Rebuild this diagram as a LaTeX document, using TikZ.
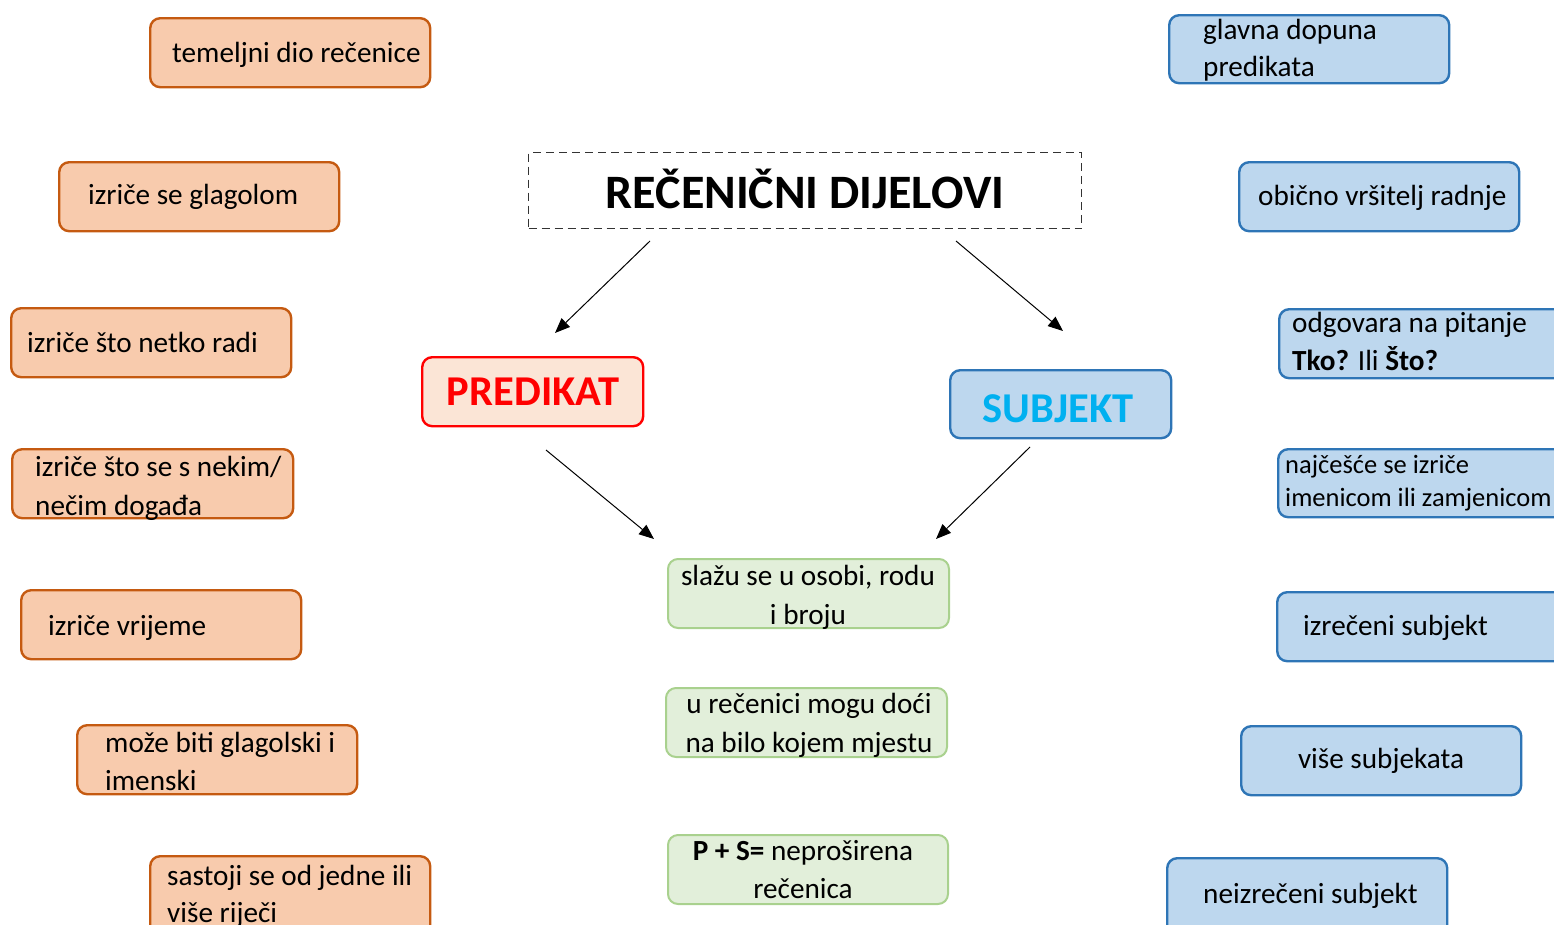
\documentclass[tikz,border=0pt]{standalone}
\usepackage{fontspec}
\setmainfont{Carlito}
\usetikzlibrary{arrows.meta}
\definecolor{ofill}{HTML}{F8CBAD}
\definecolor{oline}{HTML}{C55A11}
\definecolor{bfill}{HTML}{BDD7EE}
\definecolor{bline}{HTML}{2E75B6}
\definecolor{gfill}{HTML}{E2EFDA}
\definecolor{gline}{HTML}{A9D18E}
\definecolor{rfill}{HTML}{FBE5D6}
\definecolor{subj}{HTML}{00B0F0}
\begin{document}
\begin{tikzpicture}[x=1pt,y=-1pt,
  boxbase/.style={rectangle, rounded corners=10pt, inner sep=0pt, anchor=north west},
  obox/.style={boxbase, fill=ofill, draw=oline, line width=2.4pt},
  bbox/.style={boxbase, fill=bfill, draw=bline, line width=2.4pt},
  gbox/.style={boxbase, fill=gfill, draw=gline, line width=2pt},
  rbox/.style={boxbase, fill=rfill, draw=red, line width=2.4pt},
  tbox/.style={rectangle, inner sep=0pt, anchor=north west, draw=black!80, dashed, dash pattern=on 8pt off 5pt, line width=1.3pt},
  txt/.style={inner sep=0pt, anchor=base west, font=\fontsize{29.2}{35}\selectfont},
  ctxt/.style={txt, anchor=base},
  stxt/.style={txt, font=\fontsize{26.5}{32}\selectfont},
  arr/.style={-{Triangle[length=15pt,width=12pt]}, line width=1pt}
]
\useasboundingbox (0,0) rectangle (1554,924);
% left orange boxes
\node[obox, minimum width=280pt, minimum height=69pt] (o1) at (149,17) {};
\node[txt] (o1a) at (172,62) {temeljni dio rečenice};
\node[obox, minimum width=280pt, minimum height=69pt] (o2) at (58,161) {};
\node[txt] (o2a) at (88,204) {izriče se glagolom};
\node[obox, minimum width=280pt, minimum height=69pt] (o3) at (10,307) {};
\node[txt] (o3a) at (27,352) {izriče što netko radi};
\node[obox, minimum width=281pt, minimum height=69pt] (o4) at (11,448) {};
\node[txt] (o4a) at (35,476) {izriče što se s nekim/};
\node[txt] (o4b) at (35,515) {nečim događa};
\node[obox, minimum width=280pt, minimum height=69pt] (o5) at (20,589) {};
\node[txt] (o5a) at (48,635) {izriče vrijeme};
\node[obox, minimum width=280pt, minimum height=69pt] (o6) at (76,724) {};
\node[txt] (o6a) at (105,752) {može biti glagolski i};
\node[txt] (o6b) at (105,790) {imenski};
\node[obox, minimum width=280pt, minimum height=80pt] (o7) at (149,855) {};
\node[txt] (o7a) at (167,885) {sastoji se od jedne ili};
\node[txt] (o7b) at (167,922) {više riječi};
% title
\node[tbox, minimum width=553pt, minimum height=76pt] (title) at (528,152) {};
\node[ctxt, font=\fontsize{48}{56}\selectfont\bfseries] (titlet) at (805,208) {REČENIČNI DIJELOVI};
% predikat / subjekt
\node[rbox, minimum width=221pt, minimum height=69pt] (pred) at (421,356) {};
\node[ctxt, font=\fontsize{42.5}{50}\selectfont\bfseries, text=red] (predt) at (533,405) {PREDIKAT};
\node[bbox, minimum width=221pt, minimum height=68pt] (subj) at (949,369) {};
\node[ctxt, font=\fontsize{42.5}{50}\selectfont\bfseries, text=subj] (subjt) at (1058,422) {SUBJEKT};
% green boxes
\node[gbox, minimum width=281pt, minimum height=69pt] (g1) at (667,558) {};
\node[ctxt] (g1a) at (808,585) {slažu se u osobi, rodu};
\node[ctxt] (g1b) at (808,624) {i broju};
\node[gbox, minimum width=281pt, minimum height=69pt] (g2) at (665,687) {};
\node[ctxt] (g2a) at (809,713) {u rečenici mogu doći};
\node[ctxt] (g2b) at (809,752) {na bilo kojem mjestu};
\node[gbox, minimum width=280pt, minimum height=69pt] (g3) at (667,834) {};
\node[ctxt] (g3a) at (803,860) {\textbf{P + S=} neproširena};
\node[ctxt] (g3b) at (803,898) {rečenica};
% right blue boxes
\node[bbox, minimum width=280pt, minimum height=68pt] (b1) at (1168,14) {};
\node[txt] (b1a) at (1203,39) {glavna dopuna};
\node[txt] (b1b) at (1203,76) {predikata};
\node[bbox, minimum width=280pt, minimum height=69pt] (b2) at (1238,161) {};
\node[txt] (b2a) at (1258,205) {obično vršitelj radnje};
\node[bbox, minimum width=290pt, minimum height=69pt] (b3) at (1278,308) {};
\node[txt] (b3a) at (1292,332) {odgovara na pitanje};
\node[txt] (b3b) at (1292,370) {\textbf{Tko?} Ili \textbf{Što?}};
\node[bbox, minimum width=290pt, minimum height=68pt] (b4) at (1277,448) {};
\node[stxt] (b4a) at (1285,473) {najčešće se izriče};
\node[stxt] (b4b) at (1285,506) {imenicom ili zamjenicom};
\node[bbox, minimum width=290pt, minimum height=69pt] (b5) at (1276,591) {};
\node[txt] (b5a) at (1303,635) {izrečeni subjekt};
\node[bbox, minimum width=280pt, minimum height=69pt] (b6) at (1240,725) {};
\node[ctxt] (b6a) at (1381,768) {više subjekata};
\node[bbox, minimum width=280pt, minimum height=80pt] (b7) at (1166,857) {};
\node[txt] (b7a) at (1203,903) {neizrečeni subjekt};
% arrows
\coordinate (a1s) at (650,241); \coordinate (a1e) at (555,333);
\coordinate (a2s) at (956,241); \coordinate (a2e) at (1063,331);
\coordinate (a3s) at (546,450); \coordinate (a3e) at (654,539);
\coordinate (a4s) at (1030,447); \coordinate (a4e) at (936,539);
\draw[arr] (a1s) -- (a1e);
\draw[arr] (a2s) -- (a2e);
\draw[arr] (a3s) -- (a3e);
\draw[arr] (a4s) -- (a4e);
\end{tikzpicture}
\end{document}
